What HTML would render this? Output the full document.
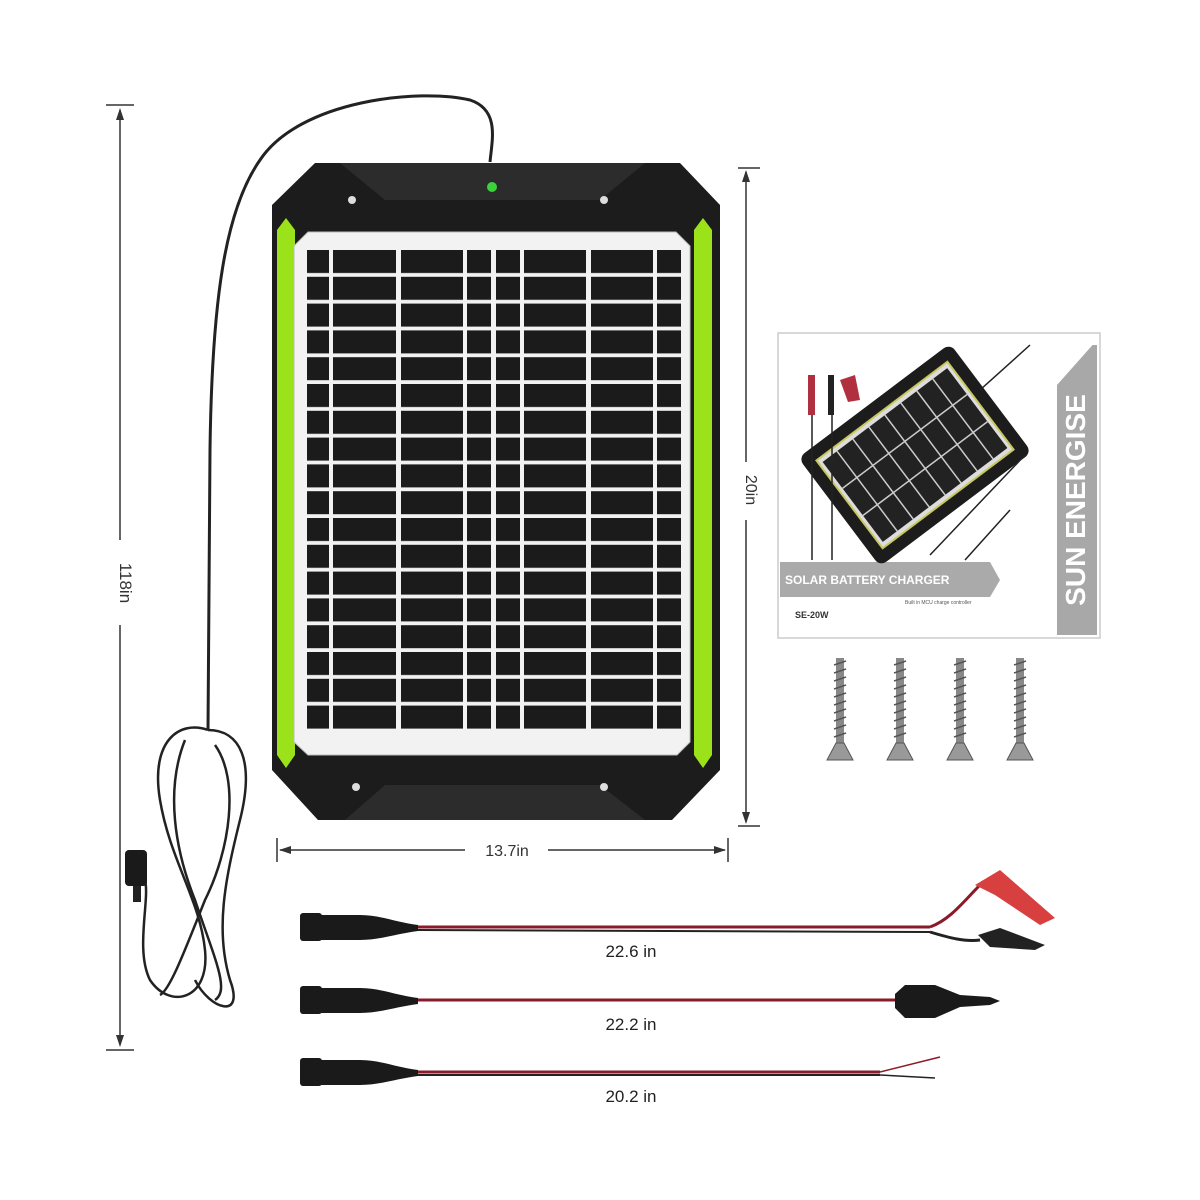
<!DOCTYPE html>
<html><head><meta charset="utf-8"><style>
html,body{margin:0;padding:0;background:#fff;}
svg{display:block;}
text{font-family:"Liberation Sans",sans-serif;}
</style></head><body>
<svg width="1200" height="1200" viewBox="0 0 1200 1200" xmlns="http://www.w3.org/2000/svg">
<defs>
<pattern id="cells" x="0" y="250" width="10" height="26.8" patternUnits="userSpaceOnUse">
<rect x="0" y="0" width="10" height="23" fill="#1b1b1b"/>
</pattern>
</defs>
<g stroke="#333" stroke-width="1.5" fill="none">
<line x1="106" y1="105" x2="134" y2="105"/>
<line x1="106" y1="1050" x2="134" y2="1050"/>
<line x1="120" y1="110" x2="120" y2="540"/>
<line x1="120" y1="625" x2="120" y2="1045"/>
</g>
<polygon points="120,108 116,120 124,120" fill="#333"/>
<polygon points="120,1047 116,1035 124,1035" fill="#333"/>
<text x="120" y="583" font-size="17" fill="#333" text-anchor="middle" transform="rotate(90 120 583)">118in</text>

<path d="M490,162 C492,140 500,110 470,100 C420,88 300,100 260,160 C225,210 212,300 210,450 L208,730" stroke="#222" stroke-width="3" fill="none"/>
<g stroke="#222" stroke-width="2.5" fill="none">
<path d="M208,730 C180,720 150,740 160,800 C170,860 200,900 205,950 C210,1000 170,1010 150,980 C135,950 150,900 145,880"/>
<path d="M208,730 C240,730 255,760 240,820 C225,880 215,930 230,980 C245,1020 210,1010 195,980"/>
<path d="M185,740 C165,790 175,850 195,900 C215,960 230,990 215,1000"/>
<path d="M215,745 C240,780 230,850 205,900 C185,950 170,990 160,995"/>
</g>
<rect x="125" y="850" width="22" height="36" rx="4" fill="#1a1a1a"/>
<rect x="133" y="886" width="8" height="16" fill="#222"/>

<path d="M315,163 L680,163 L720,205 L720,770 L672,820 L318,820 L272,770 L272,205 Z" fill="#1c1c1c"/>
<path d="M340,163 L385,200 L600,200 L645,163 Z" fill="#2c2c2c"/>
<path d="M345,820 L385,785 L600,785 L645,820 Z" fill="#2c2c2c"/>
<path d="M277,230 L286,218 L295,230 L295,755 L286,768 L277,755 Z" fill="#9be21a"/>
<path d="M694,230 L703,218 L712,230 L712,755 L703,768 L694,755 Z" fill="#9be21a"/>
<g fill="#ddd"><circle cx="352" cy="200" r="4"/><circle cx="604" cy="200" r="4"/><circle cx="356" cy="787" r="4"/><circle cx="604" cy="787" r="4"/></g>
<circle cx="492" cy="187" r="5" fill="#3bd33b"/>
<path d="M308,232 L676,232 L690,246 L690,742 L677,755 L308,755 L294,742 L294,246 Z" fill="#f2f2f2" stroke="#bbb" stroke-width="1"/>
<g>
<rect x="307" y="250" width="22" height="479" fill="url(#cells)"/>
<rect x="333" y="250" width="63" height="479" fill="url(#cells)"/>
<rect x="401" y="250" width="62" height="479" fill="url(#cells)"/>
<rect x="467" y="250" width="24" height="479" fill="url(#cells)"/>
<rect x="496" y="250" width="24" height="479" fill="url(#cells)"/>
<rect x="524" y="250" width="62" height="479" fill="url(#cells)"/>
<rect x="591" y="250" width="62" height="479" fill="url(#cells)"/>
<rect x="657" y="250" width="24" height="479" fill="url(#cells)"/>
</g>

<g stroke="#333" stroke-width="1.5">
<line x1="738" y1="168" x2="760" y2="168"/>
<line x1="738" y1="826" x2="760" y2="826"/>
<line x1="746" y1="172" x2="746" y2="462"/>
<line x1="746" y1="520" x2="746" y2="822"/>
</g>
<polygon points="746,170 742,182 750,182" fill="#333"/>
<polygon points="746,824 742,812 750,812" fill="#333"/>
<text x="746" y="490" font-size="16" fill="#333" text-anchor="middle" transform="rotate(90 746 490)">20in</text>

<g stroke="#333" stroke-width="1.5">
<line x1="277" y1="838" x2="277" y2="862"/>
<line x1="728" y1="838" x2="728" y2="862"/>
<line x1="280" y1="850" x2="465" y2="850"/>
<line x1="548" y1="850" x2="725" y2="850"/>
</g>
<polygon points="279,850 291,846 291,854" fill="#333"/>
<polygon points="726,850 714,846 714,854" fill="#333"/>
<text x="507" y="856" font-size="16" fill="#333" text-anchor="middle">13.7in</text>

<rect x="778" y="333" width="322" height="305" fill="#fff" stroke="#ccc" stroke-width="1.5"/>
<rect x="1057" y="345" width="40" height="290" fill="#a8a8a8"/>
<polygon points="1057,385 1097,340 1097,345 1057,345" fill="#fff"/>
<text x="1085" y="500" font-size="28" fill="#fff" font-family="Liberation Serif" font-weight="bold" text-anchor="middle" transform="rotate(-90 1085 500)">SUN ENERGISE</text>
<polygon points="780,562 990,562 1000,580 990,597 780,597" fill="#aaa"/>
<text x="785" y="584" font-size="12" fill="#fff" font-family="Liberation Serif" font-weight="bold">SOLAR BATTERY CHARGER</text>
<text x="905" y="604" font-size="5" fill="#555">Built in MCU charge controller</text>
<text x="795" y="618" font-size="9" fill="#333" font-weight="bold">SE-20W</text>
<g transform="translate(915,455) rotate(-37)">
<rect x="-95" y="-68" width="190" height="136" rx="8" fill="#1c1c1c"/>
<rect x="-82" y="-55" width="164" height="110" fill="#ddd" stroke="#c8c860" stroke-width="2"/>
<rect x="-78" y="-50" width="156" height="100" fill="#222"/>
<g stroke="#ccc" stroke-width="1.5">
<line x1="-60" y1="-50" x2="-60" y2="50"/><line x1="-40" y1="-50" x2="-40" y2="50"/><line x1="-20" y1="-50" x2="-20" y2="50"/><line x1="0" y1="-50" x2="0" y2="50"/><line x1="20" y1="-50" x2="20" y2="50"/><line x1="40" y1="-50" x2="40" y2="50"/><line x1="60" y1="-50" x2="60" y2="50"/>
<line x1="-78" y1="-17" x2="78" y2="-17"/><line x1="-78" y1="17" x2="78" y2="17"/>
</g>
</g>
<g stroke="#222" stroke-width="1.5" fill="none">
<line x1="980" y1="390" x2="1030" y2="345"/>
<line x1="930" y1="555" x2="1025" y2="455"/>
<line x1="965" y1="560" x2="1010" y2="510"/>
<line x1="812" y1="560" x2="812" y2="380"/>
<line x1="832" y1="560" x2="832" y2="380"/>
</g>
<rect x="808" y="375" width="7" height="40" fill="#b03040"/>
<rect x="828" y="375" width="6" height="40" fill="#222"/>
<polygon points="840,380 855,375 860,400 848,402" fill="#b03040"/>

<g>
<g transform="translate(840,0)"><rect x="-4" y="658" width="8" height="85" fill="#888"/><g stroke="#555" stroke-width="1.5"><line x1="-6" y1="665" x2="6" y2="661"/><line x1="-6" y1="673" x2="6" y2="669"/><line x1="-6" y1="681" x2="6" y2="677"/><line x1="-6" y1="689" x2="6" y2="685"/><line x1="-6" y1="697" x2="6" y2="693"/><line x1="-6" y1="705" x2="6" y2="701"/><line x1="-6" y1="713" x2="6" y2="709"/><line x1="-6" y1="721" x2="6" y2="717"/><line x1="-6" y1="729" x2="6" y2="725"/><line x1="-6" y1="737" x2="6" y2="733"/></g><polygon points="-4,743 4,743 13,760 -13,760" fill="#999" stroke="#555"/></g>
<g transform="translate(900,0)"><rect x="-4" y="658" width="8" height="85" fill="#888"/><g stroke="#555" stroke-width="1.5"><line x1="-6" y1="665" x2="6" y2="661"/><line x1="-6" y1="673" x2="6" y2="669"/><line x1="-6" y1="681" x2="6" y2="677"/><line x1="-6" y1="689" x2="6" y2="685"/><line x1="-6" y1="697" x2="6" y2="693"/><line x1="-6" y1="705" x2="6" y2="701"/><line x1="-6" y1="713" x2="6" y2="709"/><line x1="-6" y1="721" x2="6" y2="717"/><line x1="-6" y1="729" x2="6" y2="725"/><line x1="-6" y1="737" x2="6" y2="733"/></g><polygon points="-4,743 4,743 13,760 -13,760" fill="#999" stroke="#555"/></g>
<g transform="translate(960,0)"><rect x="-4" y="658" width="8" height="85" fill="#888"/><g stroke="#555" stroke-width="1.5"><line x1="-6" y1="665" x2="6" y2="661"/><line x1="-6" y1="673" x2="6" y2="669"/><line x1="-6" y1="681" x2="6" y2="677"/><line x1="-6" y1="689" x2="6" y2="685"/><line x1="-6" y1="697" x2="6" y2="693"/><line x1="-6" y1="705" x2="6" y2="701"/><line x1="-6" y1="713" x2="6" y2="709"/><line x1="-6" y1="721" x2="6" y2="717"/><line x1="-6" y1="729" x2="6" y2="725"/><line x1="-6" y1="737" x2="6" y2="733"/></g><polygon points="-4,743 4,743 13,760 -13,760" fill="#999" stroke="#555"/></g>
<g transform="translate(1020,0)"><rect x="-4" y="658" width="8" height="85" fill="#888"/><g stroke="#555" stroke-width="1.5"><line x1="-6" y1="665" x2="6" y2="661"/><line x1="-6" y1="673" x2="6" y2="669"/><line x1="-6" y1="681" x2="6" y2="677"/><line x1="-6" y1="689" x2="6" y2="685"/><line x1="-6" y1="697" x2="6" y2="693"/><line x1="-6" y1="705" x2="6" y2="701"/><line x1="-6" y1="713" x2="6" y2="709"/><line x1="-6" y1="721" x2="6" y2="717"/><line x1="-6" y1="729" x2="6" y2="725"/><line x1="-6" y1="737" x2="6" y2="733"/></g><polygon points="-4,743 4,743 13,760 -13,760" fill="#999" stroke="#555"/></g>
</g>

<rect x="300" y="913" width="22" height="28" rx="3" fill="#1a1a1a"/>
<path d="M320,915 L360,915 C380,915 395,922 418,925 L418,931 C395,934 380,940 360,940 L320,940 Z" fill="#1a1a1a"/>
<line x1="418" y1="927" x2="930" y2="927" stroke="#8a1a28" stroke-width="3"/>
<line x1="418" y1="930" x2="930" y2="932" stroke="#222" stroke-width="2"/>
<path d="M930,927 C950,920 965,900 980,885" stroke="#8a1a28" stroke-width="3" fill="none"/>
<path d="M930,932 C950,938 965,942 980,940" stroke="#222" stroke-width="3" fill="none"/>
<path d="M975,885 L1000,870 L1055,918 L1040,925 L995,895 Z" fill="#d84040"/>
<path d="M978,935 L1000,928 L1045,945 L1035,950 L990,947 Z" fill="#222"/>
<text x="631" y="957" font-size="17" fill="#222" text-anchor="middle">22.6 in</text>
<rect x="300" y="986" width="22" height="28" rx="3" fill="#1a1a1a"/>
<path d="M320,988 L360,988 C380,988 395,995 418,998 L418,1004 C395,1007 380,1013 360,1013 L320,1013 Z" fill="#1a1a1a"/>
<line x1="418" y1="1000" x2="900" y2="1000" stroke="#8a1a28" stroke-width="3"/>
<path d="M895,994 L905,985 L935,985 L960,995 L990,997 L1000,1001 L990,1005 L960,1007 L935,1018 L905,1018 L895,1008 Z" fill="#1a1a1a"/>
<text x="631" y="1030" font-size="17" fill="#222" text-anchor="middle">22.2 in</text>
<rect x="300" y="1058" width="22" height="28" rx="3" fill="#1a1a1a"/>
<path d="M320,1060 L360,1060 C380,1060 395,1067 418,1070 L418,1076 C395,1079 380,1085 360,1085 L320,1085 Z" fill="#1a1a1a"/>
<line x1="418" y1="1072" x2="880" y2="1072" stroke="#8a1a28" stroke-width="3"/>
<line x1="418" y1="1075" x2="880" y2="1075" stroke="#222" stroke-width="2"/>
<path d="M880,1072 L940,1057" stroke="#8a1a28" stroke-width="1.5"/>
<path d="M880,1075 L935,1078" stroke="#222" stroke-width="1.5"/>
<text x="631" y="1102" font-size="17" fill="#222" text-anchor="middle">20.2 in</text>
</svg>
</body></html>
